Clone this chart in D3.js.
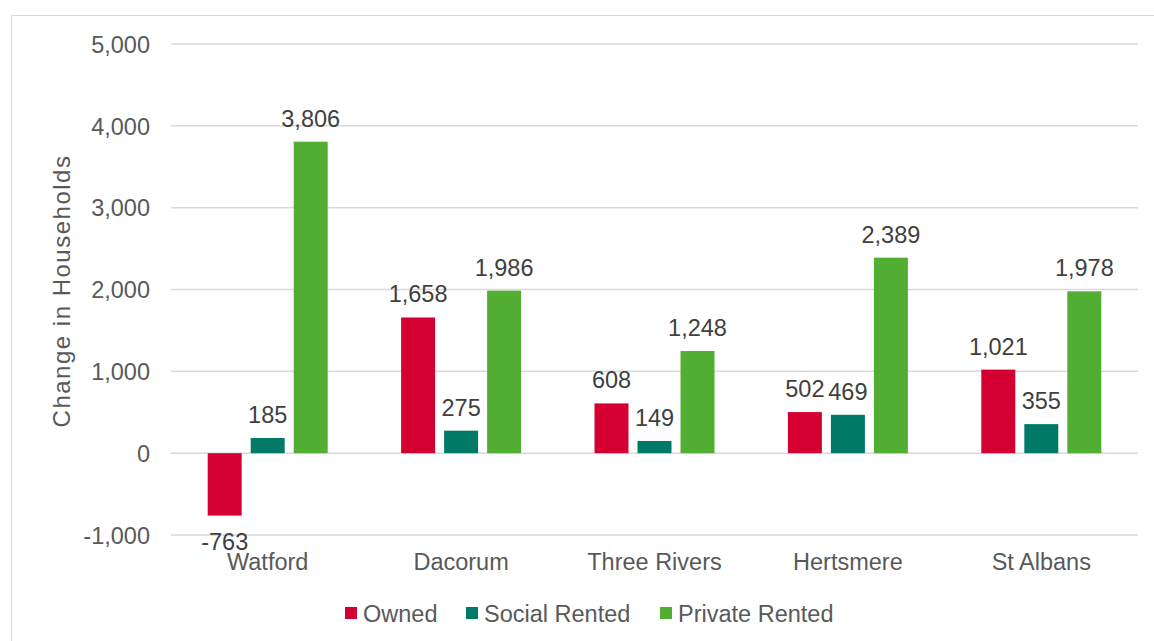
<!DOCTYPE html>
<html><head><meta charset="utf-8">
<script src="https://cdn.jsdelivr.net/npm/d3@7"></script>
<style>body{margin:0;background:#fff;}svg{display:block;font-family:"Liberation Sans",Arial,sans-serif;}</style>
</head><body>
<svg id="c" width="1154" height="641"></svg>
<script>
const categories = ["Watford","Dacorum","Three Rivers","Hertsmere","St Albans"];
const seriesNames = ["Owned","Social Rented","Private Rented"];
const owned = [-763,1658,608,502,1021];
const socialRented = [185,275,149,469,355];
const privateRented = [3806,1986,1248,2389,1978];
const yTicks = [-1000,0,1000,2000,3000,4000,5000];
const colors = ["#D50032","#007A66","#52AE32"];
const series = [owned, socialRented, privateRented];

const fmt = d3.formatLocale({decimal:".",thousands:",",grouping:[3],currency:["£",""],minus:"-"}).format(",");
const FS = 23.5;

const svg = d3.select("#c");
// outer chart border
svg.append("rect").attr("x",11.5).attr("y",15.5).attr("width",1160).attr("height",640)
  .attr("fill","#fff").attr("stroke","#d9d9d9").attr("stroke-width",1);

const pLeft=171, pRight=1138, pTop=44, pBottom=535;
const y = d3.scaleLinear().domain([-1000,5000]).range([pBottom, pTop]);
const x0 = d3.scaleBand().domain(categories).range([pLeft,pRight]).paddingInner(0).paddingOuter(0);
const groupW = 120;
const x1 = d3.scaleBand().domain(seriesNames).range([0,groupW]).paddingInner(0.21).paddingOuter(0);

// gridlines
svg.append("g").selectAll("line").data(yTicks).join("line")
  .attr("x1",pLeft).attr("x2",pRight).attr("y1",d=>y(d)).attr("y2",d=>y(d))
  .attr("stroke","#d9d9d9").attr("stroke-width",1.5);

// y axis labels
const yAxis = d3.axisLeft(y).tickValues(yTicks).tickFormat(fmt).tickSize(0).tickPadding(0);
const ya = svg.append("g").attr("transform",`translate(150,0)`).call(yAxis);
ya.select(".domain").remove();
ya.selectAll("text").attr("font-size",FS).attr("fill","#595959").attr("font-family","Liberation Sans, Arial, sans-serif").attr("dy","0.35em");

// bars
const groups = svg.append("g").selectAll("g").data(categories).join("g")
  .attr("transform",d=>`translate(${x0(d)+x0.bandwidth()/2-groupW/2},0)`);
seriesNames.forEach((s,si)=>{
  groups.append("rect")
    .attr("x",x1(s)).attr("width",x1.bandwidth())
    .attr("y",(d,i)=>y(Math.max(0,series[si][i])))
    .attr("height",(d,i)=>Math.abs(y(series[si][i])-y(0)))
    .attr("fill",colors[si]);
  groups.append("text")
    .attr("x",x1(s)+x1.bandwidth()/2)
    .attr("y",(d,i)=>series[si][i]>=0 ? y(series[si][i])-15 : y(series[si][i])+34)
    .attr("text-anchor","middle").attr("font-size",FS).attr("fill","#404040")
    .text((d,i)=>fmt(series[si][i]));
});

// category labels
svg.append("g").selectAll("text").data(categories).join("text")
  .attr("x",d=>x0(d)+x0.bandwidth()/2).attr("y",570)
  .attr("text-anchor","middle").attr("font-size",FS).attr("fill","#595959").text(d=>d);

// y title
svg.append("text").attr("transform","translate(70,291) rotate(-90)")
  .attr("text-anchor","middle").attr("font-size",24).attr("letter-spacing",1.5)
  .attr("fill","#595959").text("Change in Households");

// legend
const legX = [345,466,660];
const leg = svg.append("g").selectAll("g").data(seriesNames).join("g")
  .attr("transform",(d,i)=>`translate(${legX[i]},607)`);
leg.append("rect").attr("width",12).attr("height",12).attr("fill",(d,i)=>colors[i]);
leg.append("text").attr("x",18).attr("y",14.5).attr("font-size",FS).attr("fill","#595959").text(d=>d);
</script>
</body></html>
